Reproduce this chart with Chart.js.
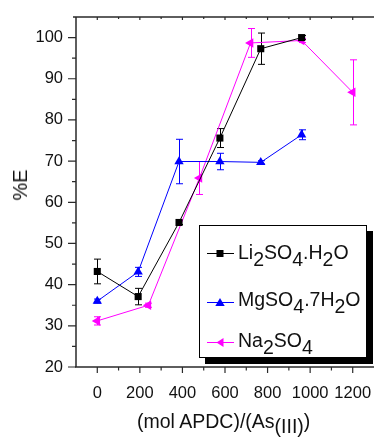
<!DOCTYPE html>
<html>
<head>
<meta charset="utf-8">
<script src="https://cdn.jsdelivr.net/npm/chart.js@4.4.1/dist/chart.umd.min.js"></script>
<style>
  html, body { margin: 0; padding: 0; background: #fff; }
  #wrap { position: relative; width: 374px; height: 439px; overflow: hidden;
          font-family: 'Liberation Sans', Arial, sans-serif; color: #111; }
  #chart { position: absolute; left: 0; top: 0; }
  .legend { position: absolute; left: 199px; top: 225px; width: 168px; height: 133px;
            box-sizing: border-box; border: 1px solid #000; background: #fff;
            box-shadow: 6px 6px 0 #000; }
  .legend svg { position: absolute; left: 7px; }
  .lbl { position: absolute; left: 38px; font-size: 19.5px; line-height: 19.5px; white-space: nowrap; }
  .sub { position: relative; top: 7px; }
  .xtitle { position: absolute; left: 137px; top: 412px; font-size: 19.5px; line-height: 19.5px; white-space: nowrap; }
  .xtitle .sub { top: 5px; }
  .ytitle { position: absolute; left: 20px; top: 185px; font-size: 20px; line-height: 20px;
            white-space: nowrap; transform: translate(-50%, -50%) rotate(-90deg); }
</style>
</head>
<body>
<div id="wrap">
  <canvas id="chart" width="374" height="439"></canvas>

  <div class="ytitle">%E</div>

  <div class="legend">
    <svg width="30" height="14" style="top:20px">
      <line x1="0" y1="7.5" x2="27" y2="7.5" stroke="#000" stroke-width="1"/>
      <rect x="9.5" y="4" width="7" height="7" fill="#000"/>
    </svg>
    <span class="lbl" style="top:17px">Li<span class="sub">2</span>SO<span class="sub">4</span>.H<span class="sub">2</span>O</span>

    <svg width="30" height="14" style="top:69px">
      <line x1="0" y1="7.5" x2="27" y2="7.5" stroke="#0000ff" stroke-width="1"/>
      <polygon points="8.3,11 17.7,11 13,3" fill="#0000ff"/>
    </svg>
    <span class="lbl" style="top:64px">MgSO<span class="sub">4</span>.7H<span class="sub">2</span>O</span>

    <svg width="30" height="14" style="top:109px">
      <line x1="0" y1="7.5" x2="27" y2="7.5" stroke="#ff00ff" stroke-width="1"/>
      <polygon points="9.5,7.5 16.5,3 16.5,12" fill="#ff00ff"/>
    </svg>
    <span class="lbl" style="top:105px">Na<span class="sub">2</span>SO<span class="sub">4</span></span>
  </div>

  <div class="xtitle">(mol APDC)/(As<span class="sub">(III)</span>)</div>
</div>

<script>
// axis ticks
const xTicks = [0, 200, 400, 600, 800, 1000, 1200];
const yTicks = [20, 30, 40, 50, 60, 70, 80, 90, 100];

// Li2SO4.H2O
const liX = [0, 192, 384, 576, 768, 960];
const liY = [43.2, 37.1, 55.1, 75.6, 97.3, 100.0];
const liErr = [3.0, 2.0, 0.5, 2.3, 3.8, 0.5];

// MgSO4.7H2O
const mgX = [0, 192, 384, 576, 768, 960];
const mgY = [36.0, 43.1, 69.9, 69.9, 69.7, 76.4];
const mgErr = [0.5, 1.1, 5.4, 2.0, 0.4, 1.2];

// Na2SO4
const naX = [0, 240, 480, 720, 960, 1200];
const naY = [31.2, 35.0, 65.9, 98.7, 99.3, 86.7];
const naErr = [1.0, 0.5, 4.0, 3.5, 0.5, 7.9];

const FONT = "'Liberation Sans', Arial, sans-serif";
const AXIS_COLOR = '#2a2a2a';

const toPoints = (xs, ys) => xs.map((x, i) => ({ x, y: ys[i] }));

// no extra label padding around the plot, the frame is fixed
const noPad = s => { s.paddingTop = 0; s.paddingBottom = 0; s.paddingLeft = 0; s.paddingRight = 0; };

// vertical error bars with caps, drawn under the markers
const errorBars = {
    id: 'errorBars',
    beforeDatasetsDraw(chart) {
        const { ctx, scales: { x, y } } = chart;
        ctx.save();
        ctx.lineWidth = 1;
        chart.data.datasets.forEach(ds => {
            ctx.strokeStyle = ds.borderColor;
            ds.data.forEach((p, i) => {
                const e = ds.errors[i];
                const px = Math.round(x.getPixelForValue(p.x)) + 0.5;
                const top = y.getPixelForValue(p.y + e);
                const bot = y.getPixelForValue(p.y - e);
                ctx.beginPath();
                ctx.moveTo(px, top); ctx.lineTo(px, bot);
                ctx.moveTo(px - 3.5, top); ctx.lineTo(px + 3.5, top);
                ctx.moveTo(px - 3.5, bot); ctx.lineTo(px + 3.5, bot);
                ctx.stroke();
            });
        });
        ctx.restore();
    }
};

// Origin-style frame: left/bottom/top lines, major + minor ticks
const frameAxes = {
    id: 'frameAxes',
    afterDraw(chart) {
        const { ctx, chartArea: a, scales: { x, y } } = chart;
        ctx.save();
        ctx.strokeStyle = AXIS_COLOR;
        ctx.lineWidth = 1.5;
        ctx.beginPath();
        ctx.moveTo(a.left, a.top); ctx.lineTo(a.left, a.bottom);
        ctx.moveTo(a.left - 1, a.bottom); ctx.lineTo(a.right, a.bottom);
        ctx.moveTo(a.left - 3, a.top); ctx.lineTo(a.right, a.top);
        ctx.stroke();

        ctx.lineWidth = 1.2;
        ctx.beginPath();
        const xStep = xTicks[1] - xTicks[0];
        xTicks.forEach(v => {
            const px = x.getPixelForValue(v);
            ctx.moveTo(px, a.bottom); ctx.lineTo(px, a.bottom + 6);
            ctx.moveTo(px, a.top); ctx.lineTo(px, a.top + 3);
            const m = x.getPixelForValue(v + xStep / 2);
            if (v + xStep / 2 < x.max) {
                ctx.moveTo(m, a.bottom); ctx.lineTo(m, a.bottom + 3.5);
                ctx.moveTo(m, a.top); ctx.lineTo(m, a.top + 2);
            }
        });
        const yStep = yTicks[1] - yTicks[0];
        yTicks.forEach(v => {
            const py = y.getPixelForValue(v);
            ctx.moveTo(a.left, py); ctx.lineTo(a.left - 8, py);
            if (v + yStep / 2 < y.max) {
                const m = y.getPixelForValue(v + yStep / 2);
                ctx.moveTo(a.left, m); ctx.lineTo(a.left - 4, m);
            }
        });
        ctx.stroke();
        ctx.restore();
    }
};

new Chart(document.getElementById('chart'), {
    type: 'scatter',
    data: {
        datasets: [
            {
                label: 'Li2SO4.H2O',
                data: toPoints(liX, liY),
                errors: liErr,
                borderColor: '#000000',
                backgroundColor: '#000000',
                pointStyle: 'rect',
                pointRadius: 5
            },
            {
                label: 'MgSO4.7H2O',
                data: toPoints(mgX, mgY),
                errors: mgErr,
                borderColor: '#0000ff',
                backgroundColor: '#0000ff',
                pointStyle: 'triangle',
                pointRadius: 5.4
            },
            {
                label: 'Na2SO4',
                data: toPoints(naX, naY),
                errors: naErr,
                borderColor: '#ff00ff',
                backgroundColor: '#ff00ff',
                pointStyle: 'triangle',
                pointRotation: -90,
                pointRadius: 5.5
            }
        ].map(ds => Object.assign(ds, {
            showLine: true,
            borderWidth: 1,
            pointBorderWidth: 0,
            pointHoverRadius: ds.pointRadius,
            tension: 0
        }))
    },
    options: {
        responsive: false,
        animation: false,
        layout: { autoPadding: false, padding: { top: 17, left: 0, right: 0, bottom: 0 } },
        plugins: {
            legend: { display: false },
            tooltip: { enabled: false }
        },
        scales: {
            x: {
                type: 'linear',
                min: -100,
                max: 1300,
                afterBuildTicks: s => { s.ticks = xTicks.map(v => ({ value: v })); },
                afterFit: s => { s.height = 72; noPad(s); },
                grid: { display: false, drawTicks: false },
                border: { display: false },
                ticks: {
                    color: '#111',
                    padding: 17,
                    maxRotation: 0,
                    autoSkip: false,
                    callback: v => String(v),
                    font: { family: FONT, size: 16.5 }
                }
            },
            y: {
                min: 20,
                max: 105,
                afterBuildTicks: s => { s.ticks = yTicks.map(v => ({ value: v })); },
                afterFit: s => { s.width = 76; noPad(s); },
                grid: { display: false, drawTicks: false },
                border: { display: false },
                ticks: {
                    color: '#111',
                    padding: 13,
                    autoSkip: false,
                    callback: v => String(v),
                    font: { family: FONT, size: 16.5 }
                }
            }
        }
    },
    plugins: [errorBars, frameAxes]
});
</script>
</body>
</html>
